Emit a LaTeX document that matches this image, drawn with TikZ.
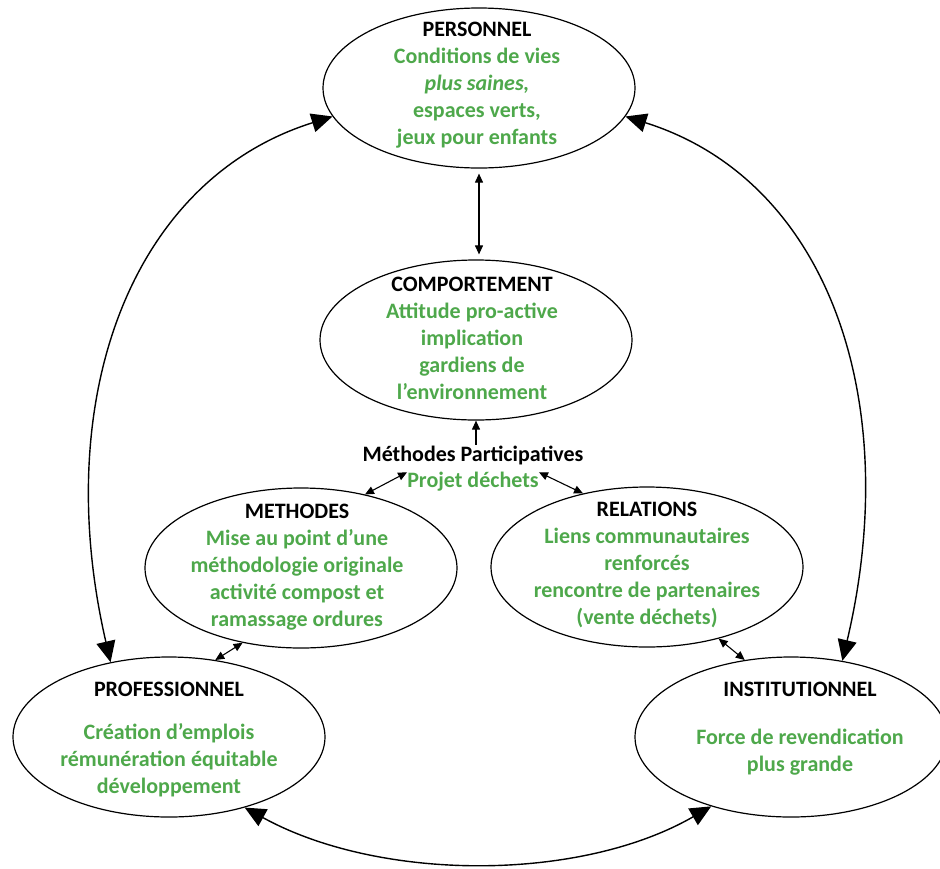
\documentclass[tikz,border=0pt]{standalone}
\usepackage{fontspec}
\setmainfont{Carlito}
\usetikzlibrary{shapes.geometric, arrows.meta}
\definecolor{leafgreen}{HTML}{4EA84B}
\newcommand{\gtxt}[1]{\textcolor{leafgreen}{#1}}
\tikzset{
  pole/.style={ellipse, draw=black, line width=1.2pt, inner sep=0pt, minimum width=312pt, minimum height=160pt},
  poletext/.style={align=center, inner sep=0pt, font=\bfseries\fontsize{22}{27}\selectfont},
  link/.style={line width=1.1pt, {Triangle[length=9pt,width=8pt]}-{Triangle[length=9pt,width=8pt]}},
  bigloop/.style={line width=1.4pt, {Triangle[length=21pt,width=19pt]}-{Triangle[length=21pt,width=19pt]}},
}

\begin{document}
\begin{tikzpicture}[x=1pt, y=-1pt]
    \useasboundingbox (0,0) rectangle (940,868);

    % ellipses
    \node[pole] (pers) at (479,88) {};
    \node[pole] (comp) at (476,340) {};
    \node[pole] (meth) at (301,568) {};
    \node[pole] (rel) at (647,567) {};
    \node[pole] (prof) at (169,737) {};
    \node[pole] (inst) at (791,737) {};

    % texts
    \node[poletext] (persT) at (477,85) {PERSONNEL\\ \gtxt{Conditions de vies}\\ \gtxt{\itshape plus saines,}\\ \gtxt{espaces verts,}\\ \gtxt{jeux pour enfants}};
    \node[poletext] (compT) at (472,338) {COMPORTEMENT\\ \gtxt{Attitude pro-active}\\ \gtxt{implication}\\ \gtxt{gardiens de}\\ \gtxt{l'environnement}};
    \node[poletext] (methT) at (297,567) {METHODES\\ \gtxt{Mise au point d'une}\\ \gtxt{méthodologie originale}\\ \gtxt{activité compost et}\\ \gtxt{ramassage ordures}};
    \node[poletext] (relT) at (647,565) {RELATIONS\\ \gtxt{Liens communautaires}\\ \gtxt{renforcés}\\ \gtxt{rencontre de partenaires}\\ \gtxt{(vente déchets)}};
    \node[poletext] (profT) at (169,740) {PROFESSIONNEL\\[16pt] \gtxt{Création d'emplois}\\ \gtxt{rémunération équitable}\\ \gtxt{développement}};
    \node[poletext] (instT) at (800,729) {INSTITUTIONNEL\\[21pt] \gtxt{Force de revendication}\\ \gtxt{plus grande}};

    % centre
    \node[poletext] (mp) at (473,455) {Méthodes Participatives};
    \node[poletext] (pd) at (473,482) {\gtxt{Projet déchets}};

    % short links
    \draw[link, shorten <=5pt, shorten >=5pt] (pers.south) -- (pers.south |- comp.north);
    \draw[link, {Triangle[length=9pt,width=8pt]}-] (comp.south) -- (mp.north -| comp.south);
    \draw[link] (meth.49) -- (pd.north west);
    \draw[link] (rel.131) -- (pd.north east);
    \draw[link] (meth.232) -- (prof.59);
    \draw[link] (rel.315) -- (inst.121);

    % big loops
    \draw[bigloop] (prof.128) .. controls (50,400) and (130,180) .. (pers.191);
    \draw[bigloop] (inst.56) .. controls (904,400) and (828,180) .. (pers.349);
    \draw[bigloop] (prof.317) .. controls (380,882) and (580,882) .. (inst.221);
\end{tikzpicture}
\end{document}
